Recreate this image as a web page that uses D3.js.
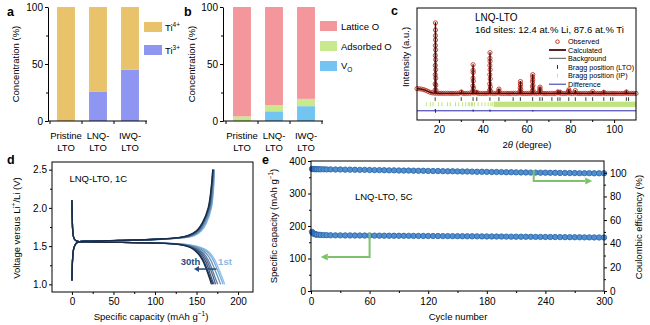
<!DOCTYPE html>
<html>
<head>
<meta charset="utf-8">
<script src="https://cdn.jsdelivr.net/npm/d3@7"></script>
<style>
body { margin: 0; background: #fff; }
svg { display: block; }
</style>
</head>
<body>
<script>
const FONT = "'Liberation Sans', Arial, Helvetica, sans-serif";

// ---- panels a / b : composition bars
const samples = ["Pristine-LTO", "LNQ-LTO", "IWQ-LTO"];
const sampleLines = [["Pristine", "LTO"], ["LNQ-", "LTO"], ["IWQ-", "LTO"]];
const ti3 = [0, 25.5, 45];
const ti4 = [100, 74.5, 55];
const vacancyO = [0, 8.5, 13];
const adsorbedO = [4, 5.3, 6.4];
const latticeO = [96, 86.2, 80.6];

// ---- panel c : Rietveld refinement
const bgKnots = [[10, 7.2], [12, 6.6], [14, 4.8], [15, 3.4], [16, 2.1], [17, 1.3], [18, 0.9], [20, 0.7], [30, 0.6], [60, 0.55], [110, 0.5]];
const obsBase = [
  7.2, 7.0, 6.6, 5.9, 4.8, 3.4, 2.1, 1.3, 0.9, 0.8,
  0.7, 0.7, 0.6, 0.6, 0.7, 0.6, 0.6, 0.5, 0.6, 0.6,
  1.5, 0.6, 0.5, 0.6, 0.7, 1.2, 1.0, 1.4, 0.6, 0.5,
  0.5, 0.6, 0.6, 1.0, 0.7, 0.6, 0.6, 1.2, 0.6, 0.5,
  0.5, 0.6, 0.5, 0.6, 0.8, 0.6, 0.7, 1.0, 0.6, 0.5,
  0.5, 0.6, 0.7, 1.0, 0.7, 0.6, 1.0, 0.8, 0.5, 0.5,
  0.5, 0.6, 0.5, 0.5, 1.2, 1.0, 0.5, 0.5, 0.6, 1.1,
  0.6, 0.5, 1.0, 0.6, 0.5, 0.5, 0.5, 0.6, 0.5, 0.5,
  0.9, 0.5, 0.5, 0.5, 0.5, 0.8, 0.5, 0.5, 0.7, 0.6,
  0.5, 0.5, 0.5, 0.5, 0.5, 0.8, 0.7, 0.5, 0.5, 0.5, 0.5
]; // 2theta = 10, 11, ... 110
const obsPeaks = [
  [18.22, 5], [18.28, 14], [18.32, 27], [18.35, 40], [18.38, 54], [18.4, 68], [18.42, 82], [18.43, 100], [18.45, 90], [18.47, 76],
  [18.49, 62], [18.51, 48], [18.54, 34], [18.57, 22], [18.61, 12], [18.66, 5],
  [30.3, 2.5],
  [35.48, 4], [35.53, 11], [35.57, 22], [35.6, 33], [35.62, 41], [35.66, 30], [35.7, 18], [35.75, 8], [35.8, 3],
  [37.3, 2.2],
  [43.16, 5], [43.21, 14], [43.25, 27], [43.28, 40], [43.31, 50], [43.33, 58], [43.36, 46], [43.39, 34], [43.43, 21], [43.48, 10], [43.54, 4],
  [47.35, 3.5], [47.42, 6.6], [47.5, 3],
  [57.05, 3.5], [57.12, 8.5], [57.18, 14], [57.22, 17.3], [57.27, 12], [57.33, 6], [57.4, 2.5],
  [62.66, 4], [62.72, 10], [62.77, 17], [62.81, 24], [62.84, 27], [62.88, 20], [62.93, 12], [62.99, 5],
  [66.02, 3.5], [66.1, 7], [66.16, 9.4], [66.24, 5],
  [74.35, 2.5], [75.35, 2.2], [79.28, 4], [79.34, 5.6], [79.42, 3], [82.3, 4.5], [90.2, 3.2], [95.3, 2.2], [105.6, 2.5]
];
const calcPeaks = [[18.43, 100], [30.3, 2.3], [35.62, 41], [37.3, 2], [43.33, 58], [47.42, 6.6], [53.9, 0.8], [57.22, 17.3],
  [62.84, 27], [66.14, 9.4], [74.35, 2.5], [75.35, 2.2], [79.34, 5.6], [82.3, 4.5], [90.2, 3.2], [95.3, 2.2], [105.6, 2.5]];
const braggLTO = [18.3, 30.2, 35.6, 37.3, 43.3, 47.4, 53.9, 57.2, 62.8, 66.1, 67.2, 71.6, 74.3, 75.3, 79.3, 82.3, 87.1, 90.2, 95.3, 98.4, 99.4, 105.6, 106.6];
const braggIP = [14.2, 16.1, 17.3, 19.8, 21.4, 23.9, 25.2, 27.6, 29.1, 30.8, 32.2, 33.4, 34.1, 34.9, 35.3, 36.2, 37.9, 39.6, 41.1, 42.5, 43.7, 44.4];
const braggIPDenseFrom = 45;
const difference = [[10, -24], [18.3, -24], [18.38, -21.5], [18.46, -26.5], [18.55, -24], [35.55, -24], [35.62, -22.5], [35.68, -25],
  [35.75, -24], [43.28, -24], [43.33, -22.5], [43.39, -25], [43.45, -24], [62.8, -24], [62.84, -23], [62.9, -24.8], [62.95, -24], [110, -24]];

// ---- panel d : charge / discharge curves
const shownCycles = [1, 2, 5, 10, 15, 20, 25, 30];
const dischargeV = [2.10, 1.85, 1.70, 1.60, 1.565, 1.555, 1.548, 1.540, 1.525, 1.50, 1.46, 1.40, 1.32, 1.22, 1.10, 1.00];
const dischargeCap = [
  [0, 0.4, 1.0, 2.5, 6, 20, 60, 105, 135, 150, 160, 167, 172, 176, 180.5, 184],
  [0, 0.4, 1.0, 2.5, 6, 20, 60, 104, 133, 148, 158, 165, 170, 174, 178.5, 182],
  [0, 0.4, 1.0, 2.5, 6, 20, 60, 103, 131, 145, 155, 162, 167, 171, 175.5, 179],
  [0, 0.4, 1.0, 2.5, 6, 20, 60, 102, 129, 143, 152, 159, 164, 168, 172, 175.5],
  [0, 0.4, 1.0, 2.5, 6, 20, 60, 101, 128, 141, 150, 157, 162, 166, 170, 173],
  [0, 0.4, 1.0, 2.5, 6, 20, 60, 101, 127, 140, 148, 155, 160, 164, 167.5, 171],
  [0, 0.4, 1.0, 2.5, 6, 20, 60, 100, 126, 139, 147, 153, 158, 162, 166, 169.5],
  [0, 0.4, 1.0, 2.5, 6, 20, 60, 100, 125, 138, 146, 152, 157, 161, 165, 168]
];
const chargeV = [1.05, 1.20, 1.35, 1.47, 1.53, 1.555, 1.565, 1.575, 1.59, 1.61, 1.64, 1.70, 1.80, 2.00, 2.25, 2.50];
const chargeCap = [
  [0, 0.3, 0.9, 2.2, 4.5, 8, 20, 60, 108, 135, 148, 156, 162, 168, 170.5, 171.5],
  [0, 0.3, 0.9, 2.2, 4.5, 8, 20, 60, 107, 134, 147, 155, 161, 167.5, 170.2, 171.3],
  [0, 0.3, 0.9, 2.2, 4.5, 8, 20, 59, 106, 133, 146, 154, 160, 167, 169.8, 171],
  [0, 0.3, 0.9, 2.2, 4.5, 8, 20, 58, 104, 132, 144, 153, 159, 166, 169, 170.6],
  [0, 0.3, 0.9, 2.2, 4.5, 8, 20, 57, 103, 131, 143, 152, 158, 165.5, 168.5, 170.2],
  [0, 0.3, 0.9, 2.2, 4.5, 8, 20, 56, 102, 130, 142, 151, 157.5, 165, 168, 170],
  [0, 0.3, 0.9, 2.2, 4.5, 8, 20, 55, 101, 129, 141, 150.5, 157, 164.5, 167.8, 169.7],
  [0, 0.3, 0.9, 2.2, 4.5, 8, 20, 55, 100, 128, 140, 150, 157, 164, 167.5, 169.5]
];

// ---- panel e : long cycling
const cycleNo = [1, 2, 3, 4, 5, 6, 8, 10, 13, 16, 20, 25, 30, 35, 40, 45, 50, 55, 60, 65, 70, 75, 80, 85, 90, 95, 100,
  105, 110, 115, 120, 125, 130, 135, 140, 145, 150, 155, 160, 165, 170, 175, 180, 185, 190, 195, 200, 205, 210, 215,
  220, 225, 230, 235, 240, 245, 250, 255, 260, 265, 270, 275, 280, 285, 290, 295, 300];
const capacity = [182, 178, 176, 175, 174, 173.5, 173, 172.5, 172, 171.8, 171.5,
  171.3, 171.2, 171.0, 171.0, 170.8, 170.7, 170.6, 170.5, 170.4, 170.3, 170.2, 170.1, 170.0, 169.9, 169.8, 169.7,
  169.6, 169.5, 169.4, 169.3, 169.2, 169.1, 169.0, 168.9, 168.8, 168.7, 168.5, 168.4, 168.3, 168.2, 168.0, 167.9,
  167.8, 167.6, 167.5, 167.4, 167.2, 167.1, 167.0, 166.8, 166.7, 166.5, 166.4, 166.3, 166.1, 166.0, 165.8, 165.7,
  165.6, 165.4, 165.3, 165.1, 165.0, 164.8, 164.7, 164.5];
const efficiency = [103.3, 103.2, 103.2, 103.1, 103.1, 103.1, 103.0, 103.0, 103.0, 102.9, 102.9,
  102.8, 102.8, 102.7, 102.7, 102.6, 102.5, 102.5, 102.4, 102.3, 102.3, 102.2, 102.1, 102.1, 102.0, 101.9, 101.9,
  101.8, 101.7, 101.7, 101.6, 101.5, 101.5, 101.4, 101.3, 101.3, 101.2, 101.1, 101.1, 101.0, 100.9, 100.9, 100.8,
  100.7, 100.7, 100.6, 100.5, 100.5, 100.4, 100.3, 100.3, 100.2, 100.2, 100.1, 100.1, 100.0, 100.0, 99.9, 99.9,
  99.8, 99.8, 99.7, 99.7, 99.7, 99.6, 99.6, 99.6];
const capArrow = [[60, 180], [60, 105], [10, 105]];   // left-axis units
const ceArrow = [[228, 102.3], [228, 93], [288, 93]]; // right-axis units

const COLORS = {
  ti4: "#E9C26C", ti3: "#8E96F1",
  lattice: "#F4979C", adsorbed: "#C9E98F", vacancy: "#73C4F1",
  obs: "#C0392B", calc: "#4A0B0B", bg: "#555", diff: "#2A2AA8", ip: "#BFE47E",
  firstCycle: "#8CC0EE", lastCycle: "#1B2C48",
  marker: "#4F8FD0", markerEdge: "#2A63A6", arrow: "#7EC26C"
};

const svg = d3.select("body").append("svg")
  .attr("width", 650).attr("height", 325)
  .attr("font-family", FONT);
svg.append("rect").attr("width", 650).attr("height", 325).attr("fill", "#fff");

function styleAxis(g) {
  g.attr("font-family", FONT).attr("font-size", 10);
  g.selectAll("text").attr("fill", "#000");
  g.selectAll("line,path").attr("stroke", "#000");
}
function minorAxis(g, axis) {
  g.call(axis.tickFormat(""));
  g.select(".domain").remove();
  g.selectAll("line").attr("stroke", "#000");
}
function text(x, y, s, size, anchor, weight, fill) {
  return svg.append("text").attr("x", x).attr("y", y).attr("font-size", size)
    .attr("text-anchor", anchor || "start").attr("font-weight", weight || "normal")
    .attr("fill", fill || "#000").text(s);
}
function vtext(x, y, size) {
  return svg.append("text").attr("transform", `translate(${x},${y}) rotate(-90)`)
    .attr("font-size", size).attr("text-anchor", "middle").attr("fill", "#000");
}
function arrow(pts, color, width, headLen, headW) {
  const n = pts.length;
  const [x1, y1] = pts[n - 2], [x2, y2] = pts[n - 1];
  const a = Math.atan2(y2 - y1, x2 - x1);
  const bx = x2 - headLen * Math.cos(a), by = y2 - headLen * Math.sin(a);
  const line = pts.slice(0, n - 1).concat([[bx, by]]);
  svg.append("path").attr("d", d3.line()(line)).attr("fill", "none")
    .attr("stroke", color).attr("stroke-width", width);
  const px = -Math.sin(a) * headW, py = Math.cos(a) * headW;
  svg.append("path").attr("d", `M${x2},${y2}L${bx + px},${by + py}L${bx - px},${by - py}Z`).attr("fill", color);
}

// ---------------- panels a and b
function barPanel(series, x0, x1, axisX) {
  const x = d3.scaleBand().domain(samples).range([x0, x1]);
  const y = d3.scaleLinear().domain([0, 100]).range([121, 7]);
  const g = svg.append("g");
  samples.forEach((s, i) => {
    let base = 0;
    series.forEach(ser => {
      const v = ser.values[i];
      if (v > 0) {
        g.append("rect")
          .attr("x", x(s) + x.bandwidth() * 0.22).attr("width", x.bandwidth() * 0.56)
          .attr("y", y(base + v)).attr("height", y(base) - y(base + v))
          .attr("fill", ser.color);
      }
      base += v;
    });
  });
  const ya = g.append("g").attr("transform", `translate(${axisX},0)`)
    .call(d3.axisLeft(y).tickValues([0, 50, 100]).tickSize(3).tickPadding(2).tickSizeOuter(0));
  styleAxis(ya);
  minorAxis(g.append("g").attr("transform", `translate(${axisX},0)`), d3.axisLeft(y).tickValues([25, 75]).tickSize(2));
  g.append("line").attr("x1", axisX).attr("x2", x1 + 1).attr("y1", y(0)).attr("y2", y(0)).attr("stroke", "#000");
  samples.map(s => x(s)).concat([x1]).forEach(t => {
    g.append("line").attr("x1", t).attr("x2", t).attr("y1", y(0)).attr("y2", y(0) + 3).attr("stroke", "#000");
  });
  samples.forEach((s, i) => {
    const t = g.append("text").attr("font-size", 9.5).attr("text-anchor", "middle");
    sampleLines[i].forEach((ln, j) => {
      t.append("tspan").attr("x", x(s) + x.bandwidth() / 2).attr("y", 139 + j * 11.5).text(ln);
    });
  });
}

barPanel([{ values: ti3, color: COLORS.ti3 }, { values: ti4, color: COLORS.ti4 }], 50, 146, 48);
barPanel([{ values: vacancyO, color: COLORS.vacancy }, { values: adsorbedO, color: COLORS.adsorbed },
  { values: latticeO, color: COLORS.lattice }], 226, 322, 223);

text(7, 16, "a", 12.5, "start", "bold");
text(184, 16, "b", 12.5, "start", "bold");
vtext(19, 64, 9.5).text("Concentration (%)");
vtext(195, 64, 9.5).text("Concentration (%)");

// legend a
[[COLORS.ti4, "4+", 22], [COLORS.ti3, "3+", 45]].forEach(([c, ch, yy]) => {
  svg.append("rect").attr("x", 144).attr("y", yy).attr("width", 18).attr("height", 10).attr("fill", c);
  const t = text(165, yy + 9, "Ti", 9.5);
  t.append("tspan").attr("font-size", 6.5).attr("dy", -4).text(ch);
});
// legend b
[[COLORS.lattice, "Lattice O", 21], [COLORS.adsorbed, "Adsorbed O", 41], [COLORS.vacancy, null, 61]].forEach(([c, s, yy]) => {
  svg.append("rect").attr("x", 320).attr("y", yy).attr("width", 17).attr("height", 10).attr("fill", c);
  if (s) text(341, yy + 9, s, 9.5);
  else {
    const t = text(341, yy + 8, "V", 9.5);
    t.append("tspan").attr("font-size", 6.5).attr("dy", 3).text("O");
  }
});

// ---------------- panel c
{
  const x = d3.scaleLinear().domain([10, 110]).range([417, 636]);
  const y = d3.scaleLinear().domain([-37, 121]).range([120, 8]);
  const g = svg.append("g");
  const bgAt = t => {
    for (let i = 1; i < bgKnots.length; i++) {
      if (t <= bgKnots[i][0]) {
        const [a0, b0] = bgKnots[i - 1], [a1, b1] = bgKnots[i];
        return b0 + (b1 - b0) * (t - a0) / (a1 - a0);
      }
    }
    return bgKnots[bgKnots.length - 1][1];
  };
  // Bragg rows
  braggLTO.forEach(t => g.append("line").attr("x1", x(t)).attr("x2", x(t))
    .attr("y1", y(-7.5) - 1.8).attr("y2", y(-7.5) + 1.8).attr("stroke", "#222").attr("stroke-width", 0.9));
  g.append("rect").attr("x", x(braggIPDenseFrom)).attr("width", x(110) - x(braggIPDenseFrom))
    .attr("y", y(-14.8) - 2.6).attr("height", 5.2).attr("fill", COLORS.ip);
  braggIP.forEach(t => g.append("line").attr("x1", x(t)).attr("x2", x(t))
    .attr("y1", y(-14.8) - 2).attr("y2", y(-14.8) + 2).attr("stroke", COLORS.ip).attr("stroke-width", 1));
  // difference
  g.append("path").attr("d", d3.line().x(d => x(d[0])).y(d => y(d[1]))(difference))
    .attr("fill", "none").attr("stroke", COLORS.diff).attr("stroke-width", 1);
  // observed
  const obs = obsBase.map((v, i) => [10 + i, v]).concat(obsPeaks);
  g.selectAll(".obs").data(obs).enter().append("circle")
    .attr("cx", d => x(d[0])).attr("cy", d => y(d[1])).attr("r", 2.1)
    .attr("fill", "none").attr("stroke", COLORS.obs).attr("stroke-width", 0.9);
  // background
  g.append("path").attr("d", d3.line().x(d => x(d[0])).y(d => y(d[1])).curve(d3.curveMonotoneX)(bgKnots))
    .attr("fill", "none").attr("stroke", COLORS.bg).attr("stroke-width", 0.8);
  // calculated
  let calc = bgKnots.slice();
  calcPeaks.forEach(([p, h]) => {
    calc.push([p - 0.22, bgAt(p - 0.22)], [p, bgAt(p) + h], [p + 0.22, bgAt(p + 0.22)]);
  });
  calc.sort((a, b) => a[0] - b[0]);
  g.append("path").attr("d", d3.line().x(d => x(d[0])).y(d => y(d[1]))(calc))
    .attr("fill", "none").attr("stroke", COLORS.calc).attr("stroke-width", 1.4);
  // frame + axis
  g.append("rect").attr("x", 417).attr("y", 8).attr("width", 219).attr("height", 112)
    .attr("fill", "none").attr("stroke", "#000");
  const xa = g.append("g").attr("transform", "translate(0,120)")
    .call(d3.axisBottom(x).tickValues([20, 40, 60, 80, 100]).tickSize(3).tickPadding(3).tickSizeOuter(0));
  styleAxis(xa);
  xa.select(".domain").remove();
  minorAxis(g.append("g").attr("transform", "translate(0,120)"), d3.axisBottom(x).tickValues([30, 50, 70, 90]).tickSize(2));
}
text(391, 15, "c", 12.5, "start", "bold");
vtext(409, 57, 9.5).text("Intensity (a.u.)");
{
  const t = text(527, 148, "2", 9.5, "middle");
  t.append("tspan").attr("font-style", "italic").text("θ");
  t.append("tspan").text(" (degree)");
}
text(475, 21, "LNQ-LTO", 10);
text(475, 33, "16d sites: 12.4 at.% Li, 87.6 at.% Ti", 9.5);
// legend c
{
  const lx0 = 549, lx1 = 566, tx = 568, fs = 7.2;
  const rows = [41.7, 50, 58.3, 67, 75.6, 84.2];
  svg.append("circle").attr("cx", 557.5).attr("cy", rows[0]).attr("r", 1.8).attr("fill", "none").attr("stroke", COLORS.obs);
  svg.append("line").attr("x1", lx0).attr("x2", lx1).attr("y1", rows[1]).attr("y2", rows[1]).attr("stroke", COLORS.calc).attr("stroke-width", 1.8);
  svg.append("line").attr("x1", lx0).attr("x2", lx1).attr("y1", rows[2]).attr("y2", rows[2]).attr("stroke", COLORS.bg).attr("stroke-width", 1);
  svg.append("line").attr("x1", 557.5).attr("x2", 557.5).attr("y1", rows[3] - 1.8).attr("y2", rows[3] + 1.8).attr("stroke", "#222");
  svg.append("line").attr("x1", 557.5).attr("x2", 557.5).attr("y1", rows[4] - 1.8).attr("y2", rows[4] + 1.8).attr("stroke", COLORS.ip);
  svg.append("line").attr("x1", lx0).attr("x2", lx1).attr("y1", rows[5]).attr("y2", rows[5]).attr("stroke", COLORS.diff).attr("stroke-width", 1);
  ["Observed", "Calculated", "Background", "Bragg position (LTO)", "Bragg position (IP)", "Difference"]
    .forEach((s, i) => text(tx, rows[i] + 2.5, s, fs));
}

// ---------------- panel d
{
  const x = d3.scaleLinear().domain([-24, 218]).range([52, 253]);
  const y = d3.scaleLinear().domain([0.9, 2.6]).range([292, 162]);
  const g = svg.append("g");
  const col = d3.scaleLinear().domain([0, shownCycles.length - 1])
    .range([COLORS.firstCycle, COLORS.lastCycle]).interpolate(d3.interpolateRgb);
  const line = d3.line().x(d => x(d[0])).y(d => y(d[1])).curve(d3.curveCatmullRom.alpha(0.5));
  shownCycles.forEach((c, i) => {
    g.append("path").attr("d", line(dischargeCap[i].map((q, k) => [q, dischargeV[k]])))
      .attr("fill", "none").attr("stroke", col(i)).attr("stroke-width", 1.3);
    g.append("path").attr("d", line(chargeCap[i].map((q, k) => [q, chargeV[k]])))
      .attr("fill", "none").attr("stroke", col(i)).attr("stroke-width", 1.3);
  });
  g.append("rect").attr("x", 52).attr("y", 162).attr("width", 201).attr("height", 130)
    .attr("fill", "none").attr("stroke", "#000");
  const xa = g.append("g").attr("transform", "translate(0,292)")
    .call(d3.axisBottom(x).tickValues([0, 50, 100, 150, 200]).tickSize(3).tickPadding(3).tickSizeOuter(0));
  styleAxis(xa); xa.select(".domain").remove();
  minorAxis(g.append("g").attr("transform", "translate(0,292)"), d3.axisBottom(x).tickValues([25, 75, 125, 175]).tickSize(2));
  const ya = g.append("g").attr("transform", "translate(52,0)")
    .call(d3.axisLeft(y).tickValues([1.0, 1.5, 2.0, 2.5]).tickFormat(d3.format(".1f")).tickSize(3).tickPadding(2).tickSizeOuter(0));
  styleAxis(ya); ya.select(".domain").remove();
  minorAxis(g.append("g").attr("transform", "translate(52,0)"), d3.axisLeft(y).tickValues([1.25, 1.75, 2.25]).tickSize(2));
  arrow([[x(174), y(1.2)], [x(147), y(1.2)]], "#2B4C7E", 1.6, 5, 3);
  text(x(131), y(1.255), "30th", 9.5, "start", "bold", "#2B4C7E");
  text(x(176), y(1.255), "1st", 9.5, "start", "bold", "#8AB6E2");
  text(x(-3), 182, "LNQ-LTO, 1C", 9.5);
}
text(7, 164, "d", 12.5, "start", "bold");
{
  const t = vtext(19.5, 228, 9.5);
  t.append("tspan").text("Voltage versus Li");
  t.append("tspan").attr("font-size", 6.5).attr("dy", -4).text("+");
  t.append("tspan").attr("dy", 4).text("/Li (V)");
}
{
  const t = text(151, 320, "Specific capacity (mAh g", 9.5, "middle");
  t.append("tspan").attr("font-size", 6.5).attr("dy", -4).text("−1");
  t.append("tspan").attr("dy", 4).text(")");
}

// ---------------- panel e
{
  const x = d3.scaleLinear().domain([0, 300]).range([311, 604]);
  const yL = d3.scaleLinear().domain([0, 400]).range([291, 161]);
  const yR = d3.scaleLinear().domain([0, 110]).range([291, 161]);
  const g = svg.append("g");
  g.selectAll(".ce").data(cycleNo).enter().append("circle")
    .attr("cx", d => x(d)).attr("cy", (d, i) => yR(efficiency[i])).attr("r", 2.7)
    .attr("fill", COLORS.marker).attr("stroke", COLORS.markerEdge).attr("stroke-width", 0.8);
  g.selectAll(".cap").data(cycleNo).enter().append("circle")
    .attr("cx", d => x(d)).attr("cy", (d, i) => yL(capacity[i])).attr("r", 2.7)
    .attr("fill", COLORS.marker).attr("stroke", COLORS.markerEdge).attr("stroke-width", 0.8);
  g.append("rect").attr("x", 311).attr("y", 161).attr("width", 293).attr("height", 130)
    .attr("fill", "none").attr("stroke", "#000");
  const xa = g.append("g").attr("transform", "translate(0,291)")
    .call(d3.axisBottom(x).tickValues([0, 60, 120, 180, 240, 300]).tickSize(3).tickPadding(4).tickSizeOuter(0));
  styleAxis(xa); xa.select(".domain").remove();
  minorAxis(g.append("g").attr("transform", "translate(0,291)"), d3.axisBottom(x).tickValues([30, 90, 150, 210, 270]).tickSize(2));
  const yla = g.append("g").attr("transform", "translate(311,0)")
    .call(d3.axisLeft(yL).tickValues([0, 100, 200, 300, 400]).tickSize(3).tickPadding(2).tickSizeOuter(0));
  styleAxis(yla); yla.select(".domain").remove();
  minorAxis(g.append("g").attr("transform", "translate(311,0)"), d3.axisLeft(yL).tickValues([50, 150, 250, 350]).tickSize(2));
  const yra = g.append("g").attr("transform", "translate(604,0)")
    .call(d3.axisRight(yR).tickValues([0, 20, 40, 60, 80, 100]).tickSize(3).tickPadding(3).tickSizeOuter(0));
  styleAxis(yra); yra.select(".domain").remove();
  minorAxis(g.append("g").attr("transform", "translate(604,0)"), d3.axisRight(yR).tickValues([10, 30, 50, 70, 90]).tickSize(2));
  arrow(capArrow.map(d => [x(d[0]), yL(d[1])]), COLORS.arrow, 2, 7, 3.5);
  arrow(ceArrow.map(d => [x(d[0]), yR(d[1])]), COLORS.arrow, 2, 7, 3.5);
  text(x(45), 200, "LNQ-LTO, 5C", 9.5);
}
text(262, 164, "e", 12.5, "start", "bold");
{
  const t = vtext(277, 226, 9.5);
  t.append("tspan").text("Specific capacity (mAh g");
  t.append("tspan").attr("font-size", 6.5).attr("dy", -4).text("−1");
  t.append("tspan").attr("dy", 4).text(")");
}
vtext(641.5, 227, 9.5).text("Coulombic efficiency (%)");
text(458, 320, "Cycle number", 9.5, "middle");
</script>
</body>
</html>
